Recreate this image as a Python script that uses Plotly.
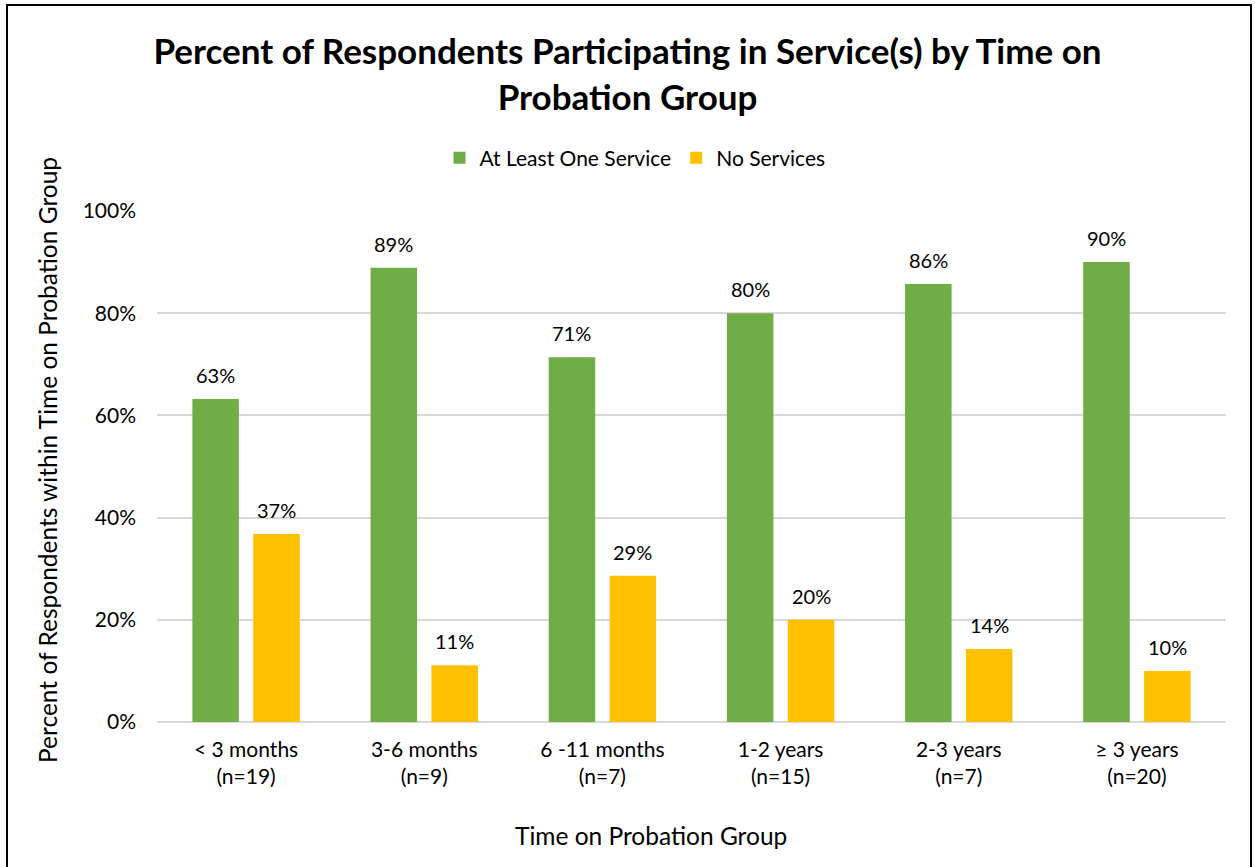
import plotly.graph_objects as go

categories = ["< 3 months<br>(n=19)", "3-6 months<br>(n=9)", "6 -11 months<br>(n=7)",
              "1-2 years<br>(n=15)", "2-3 years<br>(n=7)", "≥ 3 years<br>(n=20)"]
at_least_one = [63.2, 88.9, 71.4, 80.0, 85.7, 90.0]
no_services = [36.8, 11.1, 28.6, 20.0, 14.3, 10.0]
labels_one = ["63%", "89%", "71%", "80%", "86%", "90%"]
labels_none = ["37%", "11%", "29%", "20%", "14%", "10%"]

FONT = "Lato"
W, H = 1255, 867
L, R, T, B = 157, 29, 211, 145
pw, ph = W - L - R, H - T - B

fig = go.Figure()
fig.add_trace(go.Bar(x=categories, y=at_least_one, name="At Least One Service",
                     marker_color="#70AD47", marker_line_width=0))
fig.add_trace(go.Bar(x=categories, y=no_services, name="No Services",
                     marker_color="#FFC000", marker_line_width=0))

for cat, v, t in zip(categories, at_least_one, labels_one):
    fig.add_annotation(x=cat, y=v, text=t, showarrow=False, xshift=-30.5, yshift=24,
                       yanchor="middle", font=dict(size=20, color="#000000", family=FONT))
for cat, v, t in zip(categories, no_services, labels_none):
    fig.add_annotation(x=cat, y=v, text=t, showarrow=False, xshift=30.5, yshift=24,
                       yanchor="middle", font=dict(size=20, color="#000000", family=FONT))

def px_x(x):
    return (x - L) / pw

def px_y(y):
    return (H - B - y) / ph

# axis titles
fig.add_annotation(xref="paper", yref="paper", x=px_x(651), y=px_y(836), text="Time on Probation Group",
                   showarrow=False, xanchor="center", yanchor="middle",
                   font=dict(size=24.5, color="#000000", family=FONT))
fig.add_annotation(xref="paper", yref="paper", x=px_x(47), y=px_y(460),
                   text="Percent of Respondents within Time on Probation Group",
                   showarrow=False, xanchor="center", yanchor="middle", textangle=-90,
                   font=dict(size=24.5, color="#000000", family=FONT))

fig.add_shape(type="rect", xref="paper", yref="paper",
              x0=px_x(7), x1=px_x(1251), y0=px_y(880), y1=px_y(5),
              line=dict(color="#000000", width=2), fillcolor="rgba(0,0,0,0)", layer="above")

fig.update_layout(
    width=W, height=H,
    margin=dict(l=L, r=R, t=T, b=B, autoexpand=False),
    paper_bgcolor="white", plot_bgcolor="white",
    font=dict(family=FONT, color="#000000"),
    title=dict(text="<b>Percent of Respondents Participating in Service(s) by Time on<br>Probation Group</b>",
               x=0.5, xanchor="center", xref="container", y=1 - 64 / H, yanchor="middle",
               font=dict(size=35, family=FONT, color="#000000")),
    legend=dict(orientation="h", x=px_x(635), xanchor="center", xref="paper", y=px_y(158), yanchor="middle",
                font=dict(size=21), traceorder="normal"),
    barmode="group", bargap=0.3165, bargroupgap=0.236,
    showlegend=True,
)
fig.update_xaxes(showline=False, ticks="", tickfont=dict(size=21), ticklabelstandoff=13,
                 tickangle=0, automargin=False)
fig.update_yaxes(range=[0, 100], dtick=20, ticksuffix="%", showgrid=True, gridcolor="#D9D9D9",
                 gridwidth=1.5, zeroline=True, zerolinecolor="#D9D9D9", zerolinewidth=2,
                 tickfont=dict(size=21), ticks="", ticklen=0, ticklabelstandoff=20, automargin=False)

fig.write_html("out.html")
